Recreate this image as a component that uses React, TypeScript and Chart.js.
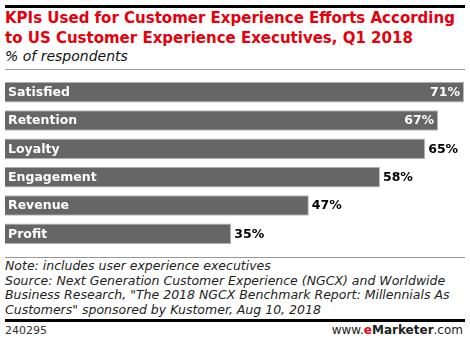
import React, { useEffect, useRef } from "react";
import { Chart, registerables } from "chart.js";

Chart.register(...registerables);

const categories = ["Satisfied", "Retention", "Loyalty", "Engagement", "Revenue", "Profit"];
const values = [71, 67, 65, 58, 47, 35];
const valueLabels = ["71%", "67%", "65%", "58%", "47%", "35%"];
const insideLabelCount = 2;

const FONT = "'DejaVu Sans', Verdana, sans-serif";

const barLabelPlugin = {
  id: "barLabels",
  afterDatasetsDraw(chart: any) {
    const ctx = chart.ctx;
    const meta = chart.getDatasetMeta(0);
    const left = chart.chartArea.left;
    ctx.save();
    ctx.font = `bold 12.5px ${FONT}`;
    ctx.textBaseline = "middle";
    meta.data.forEach((bar: any, i: number) => {
      const y = bar.y + 0.5;
      ctx.fillStyle = "#ffffff";
      ctx.textAlign = "left";
      ctx.fillText(categories[i], left + 3, y);
      if (i < insideLabelCount) {
        ctx.textAlign = "right";
        ctx.fillStyle = "#ffffff";
        ctx.fillText(valueLabels[i], bar.x - 4, y);
      } else {
        ctx.textAlign = "left";
        ctx.fillStyle = "#000000";
        ctx.fillText(valueLabels[i], bar.x + 3, y);
      }
    });
    ctx.restore();
  },
};

function BarChart() {
  const ref = useRef<HTMLCanvasElement>(null);
  useEffect(() => {
    if (!ref.current) return;
    const chart = new Chart(ref.current, {
      type: "bar",
      data: {
        labels: categories,
        datasets: [
          {
            data: values,
            backgroundColor: "#666666",
            borderColor: "#b8b8b8",
            borderWidth: 1,
            categoryPercentage: 0.73,
            barPercentage: 1,
          },
        ],
      },
      options: {
        indexAxis: "y",
        animation: false,
        responsive: false,
        maintainAspectRatio: false,
        layout: { padding: { left: 5, right: 6, top: 0, bottom: 0 } },
        plugins: { legend: { display: false }, tooltip: { enabled: false } },
        scales: {
          x: { display: false, min: 0, max: 71 },
          y: { display: false },
        },
      },
      plugins: [barLabelPlugin],
    });
    return () => chart.destroy();
  }, []);
  return <canvas ref={ref} width={470} height={170} style={{ display: "block", width: 470, height: 170 }} />;
}

export default function App() {
  return (
    <div
      style={{
        position: "fixed",
        left: 0,
        top: 0,
        width: 470,
        height: 342,
        background: "#fff",
        overflow: "hidden",
        fontFamily: FONT,
      }}
    >
      <div style={{ position: "absolute", left: 5, top: 5, width: 460, height: 3, background: "#000" }} />
      <div
        style={{
          position: "absolute",
          left: 5,
          top: 8,
          width: 470,
          color: "#e5000b",
          fontWeight: "bold",
          fontSize: 15,
          lineHeight: "20px",
          whiteSpace: "nowrap",
        }}
      >
        KPIs Used for Customer Experience Efforts According
        <br />
        to US Customer Experience Executives, Q1 2018
      </div>
      <div
        style={{
          position: "absolute",
          left: 5,
          top: 47,
          color: "#111",
          fontStyle: "italic",
          fontSize: 14,
          lineHeight: "18px",
          whiteSpace: "nowrap",
        }}
      >
        % of respondents
      </div>
      <div style={{ position: "absolute", left: 5, top: 69, width: 460, height: 1, background: "#999" }} />
      <div style={{ position: "absolute", left: 0, top: 78 }}>
        <BarChart />
      </div>
      <div style={{ position: "absolute", left: 5, top: 257, width: 460, height: 1, background: "#999" }} />
      <div
        style={{
          position: "absolute",
          left: 5,
          top: 259,
          color: "#222",
          fontStyle: "italic",
          fontSize: 12.5,
          lineHeight: "14.5px",
          whiteSpace: "nowrap",
        }}
      >
        Note: includes user experience executives
        <br />
        Source: Next Generation Customer Experience (NGCX) and Worldwide
        <br />
        Business Research, "The 2018 NGCX Benchmark Report: Millennials As
        <br />
        Customers" sponsored by Kustomer, Aug 10, 2018
      </div>
      <div style={{ position: "absolute", left: 5, top: 319, width: 460, height: 3, background: "#000" }} />
      <div
        style={{
          position: "absolute",
          left: 5,
          top: 324,
          color: "#333",
          fontSize: 11,
          lineHeight: "14px",
        }}
      >
        240295
      </div>
      <div
        style={{
          position: "absolute",
          right: 7,
          top: 323,
          color: "#222",
          fontSize: 12,
          lineHeight: "15px",
          whiteSpace: "nowrap",
        }}
      >
        www.<span style={{ color: "#e5000b", fontWeight: "bold" }}>e</span>
        <span style={{ fontWeight: "bold" }}>Marketer</span>.com
      </div>
    </div>
  );
}
